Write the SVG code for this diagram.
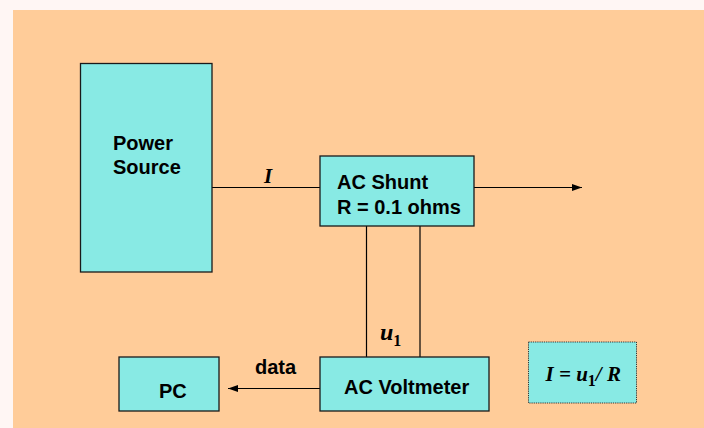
<svg xmlns="http://www.w3.org/2000/svg" width="704" height="428" viewBox="0 0 704 428">
<defs>
<style>
.box{fill:#88EAE4;stroke:#1a1a1a;stroke-width:1.3}
.lbl{font-family:"Liberation Sans",Arial,sans-serif;font-weight:bold;font-size:20px;fill:#000}
.math{font-family:"Liberation Serif","Times New Roman",serif;font-weight:bold;font-style:italic;font-size:21px;fill:#000}
.wire{stroke:#000;stroke-width:1.2;fill:none}
</style>
<marker id="arr" viewBox="0 0 10 10" refX="10" refY="5" markerWidth="10" markerHeight="10" markerUnits="userSpaceOnUse" orient="auto">
<path d="M0,1.5 L10,5 L0,8.5 z" fill="#000"/>
</marker>
</defs>
<rect x="0" y="0" width="704" height="428" fill="#FFF6F4"/>
<rect x="13" y="10" width="691" height="418" fill="#FFCC99"/>
<g id="connectors">
<line class="wire" x1="212" y1="187.5" x2="320" y2="187.5"/>
<line class="wire" x1="474" y1="187.5" x2="582" y2="187.5" marker-end="url(#arr)"/>
<line class="wire" x1="366.5" y1="226" x2="366.5" y2="357"/>
<line class="wire" x1="420" y1="226" x2="420" y2="357"/>
<line class="wire" x1="320" y1="388.5" x2="228" y2="388.5" marker-end="url(#arr)"/>
<text class="math" x="264" y="182.5">I</text>
<text class="math" x="380" y="340" style="font-size:24px">u<tspan style="font-size:16px;font-style:normal" dy="6">1</tspan></text>
<text class="lbl" x="255" y="373.5">data</text>
</g>
<g id="power-source">
<rect class="box" x="80.5" y="63.5" width="131.5" height="208.5"/>
<text class="lbl" x="113" y="150">Power</text>
<text class="lbl" x="113" y="174">Source</text>
</g>
<g id="ac-shunt">
<rect class="box" x="320" y="156" width="154" height="70"/>
<text class="lbl" x="337" y="189">AC Shunt</text>
<text class="lbl" x="337" y="213.5">R = 0.1 ohms</text>
</g>
<g id="ac-voltmeter">
<rect class="box" x="320" y="357" width="169" height="54"/>
<text class="lbl" x="344" y="394">AC Voltmeter</text>
</g>
<g id="pc">
<rect class="box" x="119" y="357" width="100" height="54"/>
<text class="lbl" x="159" y="398">PC</text>
</g>
<g id="formula">
<rect x="528.5" y="342" width="108" height="61" fill="#88EAE4" stroke="#333" stroke-width="1" stroke-dasharray="1.2,1"/>
<text class="math" x="545.5" y="381">I = u<tspan style="font-size:16px;font-style:normal" dy="5">1</tspan><tspan dy="-5">/ R</tspan></text>
</g>
</svg>
